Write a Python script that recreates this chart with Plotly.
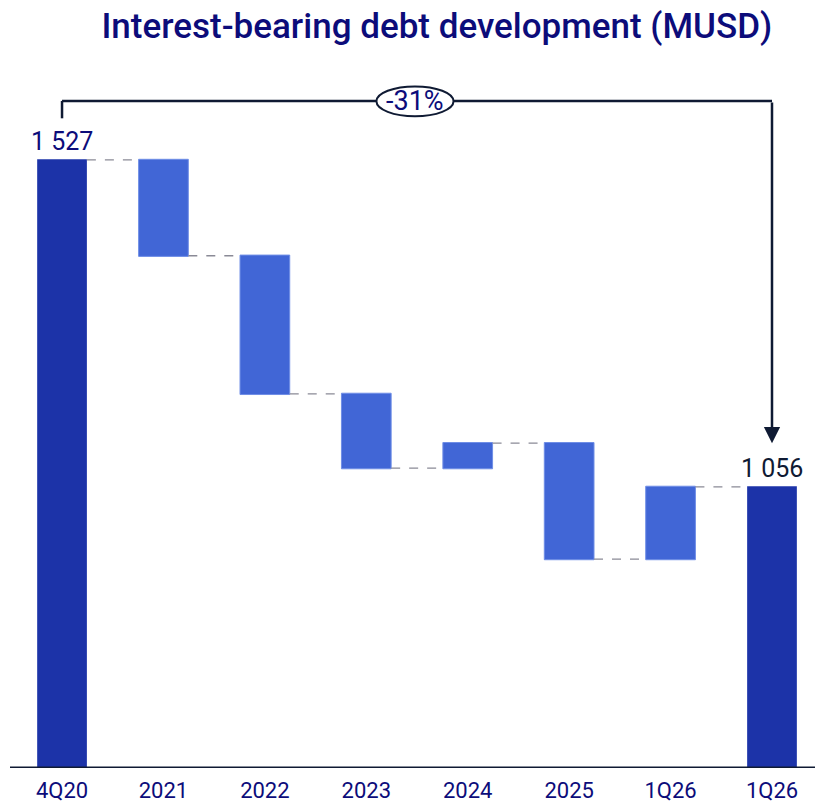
import plotly.graph_objects as go

# Interest-bearing debt bridge, MUSD
categories = ["4Q20", "2021", "2022", "2023", "2024", "2025", "1Q26", "1Q26"]
measures = ["absolute", "relative", "relative", "relative", "relative", "relative", "relative", "total"]
values = [1527, -138, -199, -107, 36, -167, 104, 1056]
change_label = "-31%"

NAVY = "#0c0c7a"
DARK = "#0f1a33"
TOTAL_COLOR = "#1c33a8"
STEP_COLOR = "#4166d6"

x_pos = list(range(len(categories)))
y_min, y_max = 651, 1671

fig = go.Figure()
fig.add_trace(go.Waterfall(
    x=x_pos,
    y=values,
    measure=measures,
    base=0,
    width=0.49,
    increasing=dict(marker=dict(color=STEP_COLOR, line=dict(color="#6f8ee6", width=1))),
    decreasing=dict(marker=dict(color=STEP_COLOR, line=dict(color="#6f8ee6", width=1))),
    totals=dict(marker=dict(color=TOTAL_COLOR, line=dict(color=TOTAL_COLOR, width=0))),
    connector=dict(line=dict(color="#8a8a96", width=1.3, dash="dash")),
    textposition="none",
    hoverinfo="skip",
    showlegend=False,
))

def fmt(v):
    return f"{v:,}".replace(",", " ")

# Value labels on the two totals
start_val = values[0]
end_val = values[-1]
for xi, v in [(0, start_val), (7, end_val)]:
    fig.add_annotation(x=xi, y=v, text=fmt(v), showarrow=False, yanchor="bottom",
                       yshift=2, font=dict(family="Roboto", size=25, color=NAVY if xi == 0 else DARK))

# Bracket showing the overall change
y_top = start_val + 85
y_left_end = start_val + 60
fig.add_shape(type="line", x0=0, x1=0, y0=y_left_end, y1=y_top, line=dict(color=DARK, width=2.5))
fig.add_shape(type="line", x0=0, x1=7, y0=y_top, y1=y_top, line=dict(color=DARK, width=2.5))
fig.add_annotation(x=7, y=end_val + 63, ax=7, ay=y_top, axref="x", ayref="y",
                   xref="x", yref="y", showarrow=True, arrowhead=2, arrowsize=1.3,
                   arrowwidth=2.5, arrowcolor=DARK, text="")
cx = 3.48
fig.add_shape(type="circle", x0=cx - 0.38, x1=cx + 0.38, y0=y_top - 22, y1=y_top + 21,
              line=dict(color=DARK, width=2), fillcolor="white")
fig.add_annotation(x=cx, y=y_top, text=change_label, showarrow=False,
                   font=dict(family="Roboto", size=27, color=NAVY))

fig.update_layout(
    width=815, height=806,
    margin=dict(l=10, r=0, t=60, b=38, autoexpand=False),
    paper_bgcolor="white", plot_bgcolor="white",
    title=dict(text="Interest-bearing debt development (MUSD)", x=0.536, xanchor="center",
               y=0.968, yanchor="middle",
               font=dict(family="Roboto", size=35, weight=500, color=NAVY)),
    xaxis=dict(range=[-0.513, 7.424], tickmode="array", tickvals=x_pos, ticktext=categories,
               showgrid=False, zeroline=False, showline=False, automargin=False,
               ticks="outside", ticklen=3, tickcolor="rgba(0,0,0,0)",
               tickfont=dict(family="Roboto", size=22, color=NAVY)),
    yaxis=dict(range=[y_min, y_max], visible=False, showgrid=False, zeroline=False),
)
# Baseline
fig.add_shape(type="line", xref="paper", yref="y", x0=0, x1=1, y0=y_min, y1=y_min,
              line=dict(color=DARK, width=3))

fig.write_html("out.html")
